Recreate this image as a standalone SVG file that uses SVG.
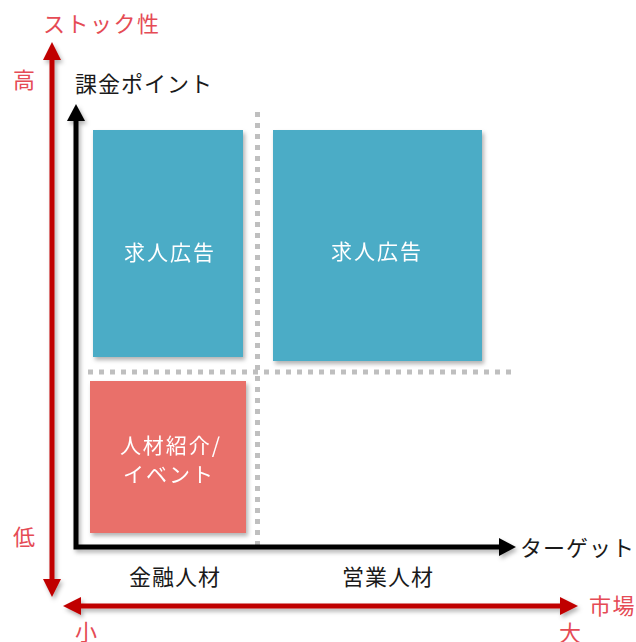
<svg xmlns="http://www.w3.org/2000/svg" width="636" height="642" viewBox="0 0 636 642">
<style>
text{font-family:"Noto Sans CJK JP","Noto Sans",sans-serif;font-weight:400}
.lbl{font-size:22px;letter-spacing:1px;fill:#1a1a1a}
.red{font-size:22px;letter-spacing:1.5px;fill:#E54B55}
.box{font-size:21px;letter-spacing:2px;fill:#ffffff;text-anchor:middle}
.blue{fill:#4BACC6}
.coral{fill:#E9706B}
.dot{stroke:#BFBFBF;stroke-width:5;stroke-dasharray:5 6;fill:none}
</style>
<defs>
<filter id="sh" x="-20%" y="-20%" width="140%" height="140%">
<feDropShadow dx="2" dy="3" stdDeviation="2" flood-color="#000" flood-opacity="0.3"/>
</filter>
<marker id="ar" markerUnits="userSpaceOnUse" markerWidth="18" markerHeight="18" viewBox="0 0 17 17" refX="0" refY="8.5" orient="auto-start-reverse">
<path d="M0,0 L17,8.5 L0,17 z" fill="#C00000"/>
</marker>
<marker id="ab" markerUnits="userSpaceOnUse" markerWidth="18" markerHeight="18" viewBox="0 0 16 17" refX="0" refY="8.5" orient="auto-start-reverse">
<path d="M0,0 L16,8.5 L0,17 z" fill="#000"/>
</marker>
</defs>

<g id="grid">
<line class="dot" x1="257.5" y1="112" x2="257.5" y2="550"/>
<line class="dot" x1="88" y1="372" x2="512" y2="372"/>
</g>

<g id="box-top-left" filter="url(#sh)">
<rect class="blue" x="93" y="130" width="150" height="227"/>
<text class="box" x="170" y="260">求人広告</text>
</g>
<g id="box-top-right" filter="url(#sh)">
<rect class="blue" x="273" y="130" width="209" height="231"/>
<text class="box" x="377" y="259">求人広告</text>
</g>
<g id="box-bottom-left" filter="url(#sh)">
<rect class="coral" x="90" y="381" width="156" height="152"/>
<text class="box" x="171" y="453">人材紹介/</text>
<text class="box" x="169" y="482">イベント</text>
</g>

<g id="connectors" filter="url(#sh)">
<line x1="52" y1="60" x2="52" y2="579" stroke="#C00000" stroke-width="5" marker-start="url(#ar)" marker-end="url(#ar)"/>
<line x1="81" y1="606" x2="560" y2="606" stroke="#C00000" stroke-width="5" marker-start="url(#ar)" marker-end="url(#ar)"/>
<path d="M76,121 L76,547 L499,547" fill="none" stroke="#000" stroke-width="5" stroke-linejoin="miter" marker-start="url(#ab)" marker-end="url(#ab)"/>
</g>

<g id="labels">
<text class="red" x="43" y="32">ストック性</text>
<text class="red" x="13" y="88">高</text>
<text class="red" x="13" y="545">低</text>
<text class="red" x="75" y="640">小</text>
<text class="red" x="559" y="641">大</text>
<text class="red" x="589" y="614">市場</text>
<text class="lbl" x="75" y="92">課金ポイント</text>
<text class="lbl" x="520" y="556">ターゲット</text>
<text class="lbl" x="129" y="585">金融人材</text>
<text class="lbl" x="342" y="585">営業人材</text>
</g>
</svg>
